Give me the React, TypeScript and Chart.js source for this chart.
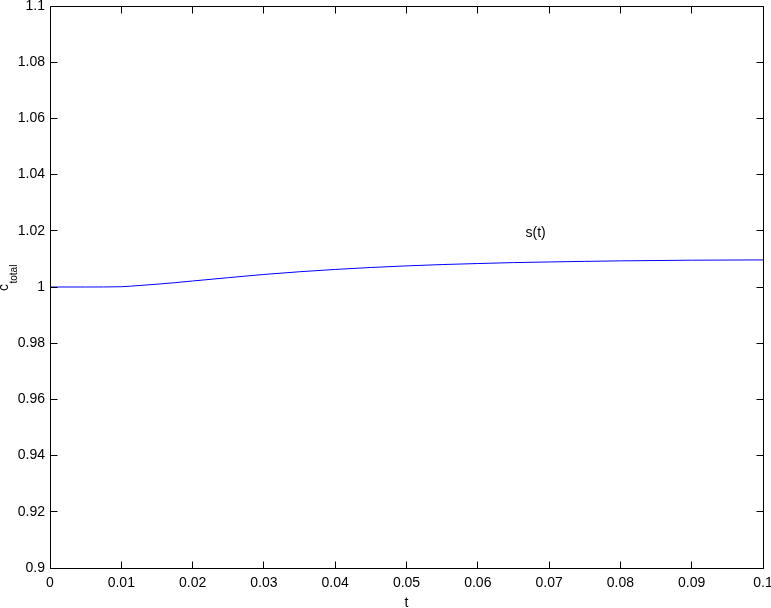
import React, { useEffect, useRef } from "react";
import { Chart, registerables } from "chart.js";

Chart.register(...registerables);

// t values (x axis)
const tValues = [0, 0.005, 0.01, 0.0125, 0.015, 0.0175, 0.02, 0.025, 0.03, 0.035, 0.04, 0.045, 0.05, 0.055, 0.06, 0.065, 0.07, 0.075, 0.08, 0.09, 0.1];
// c_total = s(t)
const sValues = [1.0, 1.0, 1.0001, 1.00053, 1.00099, 1.00153, 1.00214, 1.00332, 1.00446, 1.00543, 1.00625, 1.00694, 1.00751, 1.00799, 1.00835, 1.00868, 1.00891, 1.00912, 1.0093, 1.00954, 1.00964];

const xTicks = [0, 0.01, 0.02, 0.03, 0.04, 0.05, 0.06, 0.07, 0.08, 0.09, 0.1];
const yTicks = [0.9, 0.92, 0.94, 0.96, 0.98, 1, 1.02, 1.04, 1.06, 1.08, 1.1];

const seriesLabel = "s(t)";
const labelPos = { t: 0.0667, v: 1.019 };
const xTitle = "t";
const yTitleMain = "c";
const yTitleSub = "total";

const FONT = "'Liberation Sans', Arial, Helvetica, sans-serif";

const boxPlugin = {
  id: "matlabBox",
  afterDraw(chart: any) {
    const { ctx, chartArea } = chart;
    const xs = chart.scales.x;
    const ys = chart.scales.y;
    const L = Math.floor(chartArea.left) + 0.5;
    const R = Math.floor(chartArea.right) + 0.5;
    const T = Math.floor(chartArea.top) + 0.5;
    const B = Math.floor(chartArea.bottom) + 0.5;
    const tl = 7;
    ctx.save();
    ctx.strokeStyle = "#000";
    ctx.lineWidth = 1;
    ctx.beginPath();
    ctx.rect(L, T, R - L, B - T);
    xTicks.forEach((v) => {
      const px = Math.floor(xs.getPixelForValue(v)) + 0.5;
      ctx.moveTo(px, B);
      ctx.lineTo(px, B - tl);
      ctx.moveTo(px, T);
      ctx.lineTo(px, T + tl);
    });
    yTicks.forEach((v) => {
      const py = Math.floor(ys.getPixelForValue(v)) + 0.5;
      ctx.moveTo(L, py);
      ctx.lineTo(L + tl, py);
      ctx.moveTo(R, py);
      ctx.lineTo(R - tl, py);
    });
    ctx.stroke();

    // series annotation
    ctx.fillStyle = "#000";
    ctx.font = `14px ${FONT}`;
    ctx.textAlign = "left";
    ctx.textBaseline = "middle";
    ctx.fillText(seriesLabel, xs.getPixelForValue(labelPos.t), ys.getPixelForValue(labelPos.v));

    // x title
    ctx.textAlign = "center";
    ctx.textBaseline = "alphabetic";
    ctx.fillText(xTitle, (chartArea.left + chartArea.right) / 2, 607);

    // y title with subscript
    ctx.save();
    ctx.translate(7.5, 291);
    ctx.rotate(-Math.PI / 2);
    ctx.textAlign = "left";
    ctx.font = `14px ${FONT}`;
    ctx.fillText(yTitleMain, 0, 0);
    const w = ctx.measureText(yTitleMain).width;
    ctx.font = `10px ${FONT}`;
    ctx.fillText(yTitleSub, w + 0.5, 9.4);
    ctx.restore();
    ctx.restore();
  },
};

const fmt = (v: number) => String(+Number(v).toFixed(4));

export default function App() {
  const ref = useRef<HTMLCanvasElement | null>(null);
  useEffect(() => {
    if (!ref.current) return;
    const chart = new Chart(ref.current, {
      type: "line",
      data: {
        datasets: [
          {
            label: seriesLabel,
            data: tValues.map((t, i) => ({ x: t, y: sValues[i] })),
            borderColor: "#0000ff",
            borderWidth: 1,
            pointRadius: 0,
            cubicInterpolationMode: "monotone",
            fill: false,
          },
        ],
      },
      options: {
        responsive: false,
        animation: false,
        devicePixelRatio: 1,
        layout: { padding: { left: 0, top: 6, right: 8, bottom: 0 } },
        plugins: { legend: { display: false }, tooltip: { enabled: false } },
        scales: {
          x: {
            type: "linear",
            min: 0,
            max: 0.1,
            grid: { display: false, drawTicks: false },
            border: { display: false },
            ticks: {
              stepSize: 0.01,
              padding: 7,
              color: "#000",
              maxRotation: 0,
              autoSkip: false,
              font: { family: FONT, size: 14 },
              callback: (v: any) => fmt(v),
            },
            afterFit: (s: any) => {
              s.height = 40;
              s.paddingLeft = 0;
              s.paddingRight = 0;
            },
          },
          y: {
            type: "linear",
            min: 0.9,
            max: 1.1,
            grid: { display: false, drawTicks: false },
            border: { display: false },
            ticks: {
              stepSize: 0.02,
              padding: 5,
              color: "#000",
              autoSkip: false,
              font: { family: FONT, size: 14 },
              callback: (v: any) => fmt(v),
            },
            afterFit: (s: any) => {
              s.width = 50;
              s.paddingTop = 0;
              s.paddingBottom = 0;
            },
          },
        },
      },
      plugins: [boxPlugin],
    });
    return () => chart.destroy();
  }, []);
  return (
    <div style={{ position: "absolute", left: 0, top: 0, width: 771, height: 608, background: "#fff" }}>
      <canvas ref={ref} width={771} height={608} style={{ display: "block" }} />
    </div>
  );
}
